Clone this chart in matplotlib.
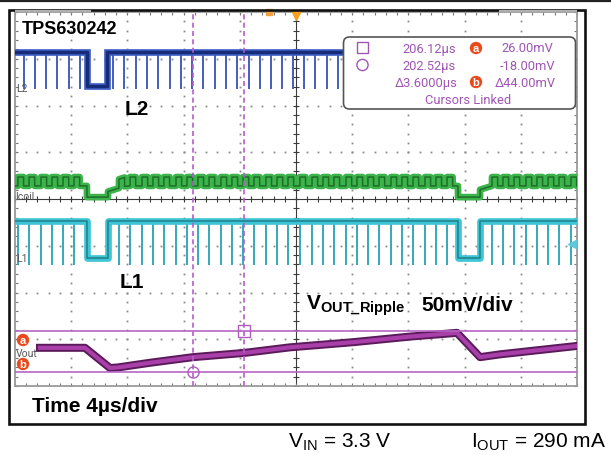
import matplotlib
matplotlib.use("Agg")
import matplotlib.pyplot as plt
from matplotlib.patches import Rectangle, FancyBboxPatch, Circle
import numpy as np

plt.rcParams['font.family'] = ['Liberation Sans', 'DejaVu Sans']
plt.rcParams['mathtext.fontset'] = 'custom'
plt.rcParams['mathtext.rm'] = 'Liberation Sans'
plt.rcParams['mathtext.bf'] = 'Liberation Sans:bold'
plt.rcParams['mathtext.it'] = 'Liberation Sans:italic'

# ---------------- data (read from the scope shot) ----------------
time_per_div_us = 4.0
n_div_x, n_div_y = 10, 8
vout_mV_per_div = 50.0

# L2 switch node (screen divisions)
l2_high_div, l2_low_div, l2_spike_bottom_div = 7.14, 6.42, 6.36
l2_skip_us = [(5.12, 6.55)]
l2_spike_us = [0.64, 1.42, 2.21, 2.99, 3.84, 4.63, 6.98, 7.76, 8.61, 9.40,
               10.18, 11.03, 11.81, 12.60, 13.38, 14.23, 15.02, 15.80, 16.65,
               17.44, 18.22, 19.00, 19.79, 20.57, 21.35, 22.21, 22.99]
l2_visible_end_us = 23.35

# L1 switch node (screen divisions)
l1_high_div, l1_low_div, l1_spike_bottom_div = 3.53, 2.74, 2.59
l1_skip_us = [(5.12, 6.62), (31.53, 33.10)]
l1_spike_us = [0.21, 1.00, 1.85, 2.63, 3.42, 4.20, 7.40, 8.19, 9.04, 9.82,
               10.60, 11.46, 12.24, 13.02, 13.81, 14.66, 15.44, 16.23, 17.01,
               17.86, 18.65, 19.43, 20.28, 21.14, 21.92, 22.70, 23.56, 24.34,
               25.12, 25.91, 26.76, 27.54, 28.33, 29.18, 29.96, 30.75, 33.95,
               34.73, 35.52, 36.37, 37.15, 37.94, 38.72, 39.57]

# Coil current (screen divisions)
icoil_peak_div, icoil_valley_div, icoil_skip_div = 4.47, 4.28, 4.04
icoil_on_us = 0.40
icoil_skip_us = [(5.12, 6.62), (31.53, 33.10)]
icoil_recovery = [(6.62, -0.12, 7.9), (33.10, -0.08, 33.7)]  # start, offset, end

# Output voltage ripple (mV)
vout_zero_div = 0.657
vout_t_us = [1.78, 4.98, 6.76, 7.33, 9.61, 12.67, 16.30, 19.57, 24.06, 28.11,
             31.46, 33.10, 34.52, 40.0]
vout_mV = [8.0, 8.0, -13.6, -13.0, -8.0, -2.0, 2.5, 8.5, 14.0, 20.0,
           24.0, -2.0, 1.0, 10.0]

# Cursors
screen_start_abs_us = 189.84
cursor_time_us = [206.12, 202.52]   # square, circle
cursor_level_mV = [26.0, -18.0]     # a, b

# ---------------- figure ----------------
W, H = 611, 455
fig = plt.figure(figsize=(W / 100, H / 100), dpi=100)
fig.patch.set_facecolor('white')

xmax = time_per_div_us * n_div_x
ax = fig.add_axes([15 / W, 1 - 386 / H, 562 / W, 374 / H])
ax.set_xlim(0, xmax)
ax.set_ylim(0, n_div_y)
ax.set_facecolor('white')
for s in ax.spines.values():
    s.set_color('#9a9a9a')
    s.set_linewidth(1.3)
minor_x = np.arange(0, xmax + 1e-6, time_per_div_us / 5)
minor_y = np.arange(0, n_div_y + 1e-6, 0.2)
ax.set_xticks(minor_x)
ax.set_yticks(minor_y)
ax.tick_params(direction='in', length=2.5, width=0.8, color='#777777',
               top=True, right=True, labelbottom=False, labelleft=False)

# graticule dots
for k in range(1, n_div_x):
    if k == n_div_x // 2:
        continue
    ax.plot(np.full_like(minor_y, k * time_per_div_us), minor_y, ls='none',
            marker='s', ms=1.3, mew=0, color='#8a8a8a', zorder=1)
for k in range(1, n_div_y):
    if k == n_div_y // 2:
        continue
    ax.plot(minor_x, np.full_like(minor_x, k), ls='none',
            marker='s', ms=1.3, mew=0, color='#8a8a8a', zorder=1)
# centre cross with ticks
ax.axvline(xmax / 2, color='#3a3a3a', lw=0.8, zorder=1)
ax.axhline(n_div_y / 2, color='#3a3a3a', lw=0.8, zorder=1)
ax.plot(minor_x, np.full_like(minor_x, n_div_y / 2), ls='none', marker='|',
        ms=5, mew=0.8, color='#3a3a3a', zorder=1)
ax.plot(np.full_like(minor_y, xmax / 2), minor_y, ls='none', marker='_',
        ms=5, mew=0.8, color='#3a3a3a', zorder=1)


def level_path(t0, t1, high, low, skips):
    xs, ys = [t0], [high]
    for a, b in skips:
        xs += [a, a, b, b]
        ys += [high, low, low, high]
    xs.append(t1)
    ys.append(high)
    return xs, ys


# L2
xs, ys = level_path(0, l2_visible_end_us, l2_high_div, l2_low_div, l2_skip_us)
ax.vlines(l2_spike_us, l2_spike_bottom_div, l2_high_div, color='#3553b5', lw=1.3, zorder=3)
ax.plot(xs, ys, color='#3d5ec4', lw=4.8, solid_joinstyle='miter', zorder=4)
ax.plot(xs, ys, color='#172c78', lw=2.4, zorder=5)

# Icoil
pts = [(0.0, icoil_valley_div)]
for t in l1_spike_us:
    pts += [(t, icoil_valley_div), (t, icoil_peak_div),
            (t + icoil_on_us, icoil_peak_div), (t + icoil_on_us, icoil_valley_div)]
for a, b in icoil_skip_us:
    pts += [(a, icoil_valley_div), (a, icoil_skip_div), (b, icoil_skip_div), (b, icoil_valley_div)]
pts.append((xmax, icoil_valley_div))
pts.sort(key=lambda p: p[0])
it = np.array([p[0] for p in pts])
iv = np.array([p[1] for p in pts])
for s0, off, s1 in icoil_recovery:
    m = (it >= s0) & (it <= s1) & (iv != icoil_skip_div)
    iv[m] += np.interp(it[m], [s0, s1], [off, 0.0])
ax.plot(it, iv, color='#3cb44b', lw=4.8, zorder=4)
ax.plot(it, iv, color='#1d6e27', lw=1.1, zorder=5)

# L1
xs, ys = level_path(0, xmax, l1_high_div, l1_low_div, l1_skip_us)
ax.vlines(l1_spike_us, l1_spike_bottom_div, l1_high_div, color='#25a2b4', lw=1.3, zorder=3)
ax.plot(xs, ys, color='#3fc4d4', lw=4.8, zorder=4)
ax.plot(xs, ys, color='#1f7f8c', lw=1.1, zorder=5)

# Vout
vy = vout_zero_div + np.array(vout_mV) / vout_mV_per_div
ax.plot(vout_t_us, vy, color='#5b1b5b', lw=5.8, zorder=4, solid_joinstyle='round')
ax.plot(vout_t_us, vy, color='#a93fa9', lw=3.0, zorder=5)

# cursors
cur_t = [c - screen_start_abs_us for c in cursor_time_us]
cur_y = [vout_zero_div + v / vout_mV_per_div for v in cursor_level_mV]
for yv in cur_y:
    ax.axhline(yv, color='#b866c4', lw=1.2, zorder=6)
for tv in cur_t:
    ax.axvline(tv, color='#b85ccc', lw=1.2, ls=(0, (3, 2)), zorder=6)
ax.plot([cur_t[0]], [cur_y[0]], marker='s', ms=8, mfc='none', mec='#b05cbc', mew=1.0, zorder=7)
ax.plot([cur_t[1]], [cur_y[1]], marker='o', ms=8, mfc='none', mec='#b05cbc', mew=1.0, zorder=7)

# trigger markers
ax.plot([xmax / 2], [n_div_y - 0.07], marker='v', ms=7, color='#f5a020', clip_on=False, zorder=8)
ax.plot([18.1], [n_div_y], marker='s', ms=4, color='#f0a040', clip_on=False, zorder=8)
ax.plot([xmax - 0.35], [3.04], marker='<', ms=6, color='#5cc8dc', clip_on=False, zorder=8)

# ---------------- overlay in pixel coordinates ----------------
ov = fig.add_axes([0, 0, 1, 1], zorder=10)
ov.set_xlim(0, W)
ov.set_ylim(H, 0)
ov.axis('off')
ov.patch.set_alpha(0)

ov.plot([0, W], [1, 1], color='#222222', lw=1.6)
ov.add_patch(Rectangle((8.5, 9.5), 576, 414, fill=False, ec='#111111', lw=1.9))
ov.plot([16, 90], [11, 11], color='#b0b0b0', lw=1.5)
ov.plot([500, 576], [11, 11], color='#b0b0b0', lw=1.5)

# readout box
ov.add_patch(FancyBboxPatch((343.5, 37), 232, 72, boxstyle='round,pad=0,rounding_size=6',
                            ec='#555555', fc='white', lw=1.2))
pc = '#a055b5'
narrow = ['Roboto', 'DejaVu Sans']
ov.add_patch(Rectangle((357, 41.5), 11, 11, fill=False, ec=pc, lw=1.0))
ov.add_patch(Circle((362.5, 65), 5.6, fill=False, ec=pc, lw=1.0))
rs = dict(color=pc, fontsize=9.3, family=narrow, ha='right', va='baseline')
ov.text(456, 52.5, f"{cursor_time_us[0]:.2f}µs", **rs)
ov.text(456, 70, f"{cursor_time_us[1]:.2f}µs", **rs)
ov.text(458, 87, f"Δ{cursor_time_us[0] - cursor_time_us[1]:.4f}µs", **rs)
ov.text(553, 52.5, f"{cursor_level_mV[0]:.2f}mV", **rs)
ov.text(555, 70, f"{cursor_level_mV[1]:.2f}mV", **rs)
ov.text(556, 87, f"Δ{cursor_level_mV[0] - cursor_level_mV[1]:.2f}mV", **rs)
ov.text(468, 104, "Cursors Linked", color=pc, fontsize=9.3, family=narrow,
        ha='center', va='baseline')


def badge(x, y, letter):
    ov.add_patch(Circle((x, y), 6.2, fc='#e84a1c', ec='none', zorder=12))
    ov.text(x, y + 0.5, letter, color='white', fontsize=8, fontweight='bold',
            ha='center', va='center', zorder=13)


badge(476, 48, 'a')
badge(476, 82, 'b')
badge(23, 340, 'a')
badge(23, 364, 'b')

# channel labels
cl = dict(color='#555555', fontsize=7.5, family=narrow, va='baseline')
ov.text(16, 92, "L2", **cl)
ov.text(15, 200, "Icoil", **cl)
ov.text(16, 262, "L1", **cl)
ov.text(16, 357, "Vout", **cl)

# annotations
bold = dict(color='black', fontweight='bold', va='baseline')
ov.text(22, 34, "TPS630242", fontsize=13, **bold)
ov.text(125, 115, "L2", fontsize=15, **bold)
ov.text(120, 288, "L1", fontsize=15, **bold)
ov.text(306, 310, r"$\mathbf{V_{OUT\_Ripple}}$", fontsize=15, color='black', va='baseline')
ov.text(421, 311, "50mV/div", fontsize=15, **bold)
ov.text(32, 412, "Time 4µs/div", fontsize=15, **bold)
ov.text(288, 448, r"$\mathrm{V_{IN}}$ = 3.3 V", fontsize=15, color='black', va='baseline')
ov.text(471, 448, r"$\mathrm{I_{OUT}}$ = 290 mA", fontsize=15, color='black', va='baseline')

fig.savefig('out.png', dpi=100, facecolor='white')
